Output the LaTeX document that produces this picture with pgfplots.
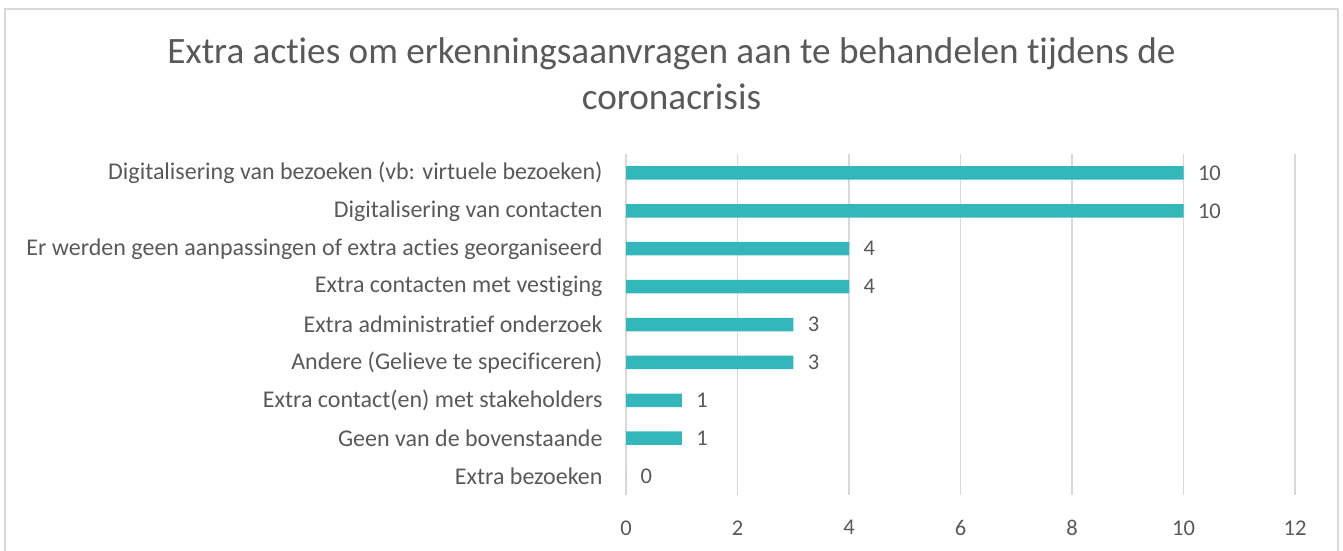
\documentclass[border=0pt]{standalone}
\usepackage{fontspec}
\setmainfont[Ligatures={NoCommon}]{Carlito}
\usepackage{pgfplots}
\pgfplotsset{compat=1.18}
\definecolor{bartc}{RGB}{51,183,186}
\definecolor{txt}{RGB}{89,89,89}
\definecolor{gridc}{RGB}{217,217,217}
\begin{document}
\begin{tikzpicture}
\path[use as bounding box] (0pt,0pt) rectangle (1343pt,551pt);
\draw[gridc,line width=1.2pt] (5pt,-10pt) -- (5pt,542pt) -- (1338pt,542pt) -- (1338pt,-10pt);
\node[anchor=base,text=txt,font=\fontsize{37.2}{44}\selectfont] at (671.5pt,487pt) {Extra acties om erkenningsaanvragen aan te behandelen tijdens de};
\node[anchor=base,text=txt,font=\fontsize{37.2}{44}\selectfont] at (671.5pt,441pt) {coronacrisis};
\begin{axis}[
  at={(626pt,56pt)}, anchor=south west,
  scale only axis, width=669pt, height=341pt,
  xbar, bar width=13.5pt,
  xmin=0, xmax=12, xtick={0,2,...,12},
  ymin=-0.5, ymax=8.5, y dir=reverse,
  ytick={0,...,8},
  yticklabels={Digitalisering van bezoeken (vb: virtuele bezoeken),Digitalisering van contacten,Er werden geen aanpassingen of extra acties georganiseerd,Extra contacten met vestiging,Extra administratief onderzoek,Andere (Gelieve te specificeren),Extra contact(en) met stakeholders,Geen van de bovenstaande,Extra bezoeken},
  axis line style={draw=none},
  major tick length=0pt,
  xmajorgrids, grid style={gridc,line width=1.5pt},
  ymajorgrids=false,
  tick label style={text=txt,font=\fontsize{24}{28}\selectfont},
  xticklabel style={font=\fontsize{22.5}{27}\selectfont, yshift=-22pt},
  /pgf/number format/assume math mode=true,
  yticklabel style={xshift=-20pt},
  nodes near coords,
  nodes near coords style={text=txt,font=\fontsize{22.5}{27}\selectfont,xshift=11pt,anchor=west},
  clip=false,
]
\addplot[fill=bartc,draw=none] coordinates {(10,0) (10,1) (4,2) (4,3) (3,4) (3,5) (1,6) (1,7) (0,8)};
\end{axis}
\end{tikzpicture}
\end{document}
